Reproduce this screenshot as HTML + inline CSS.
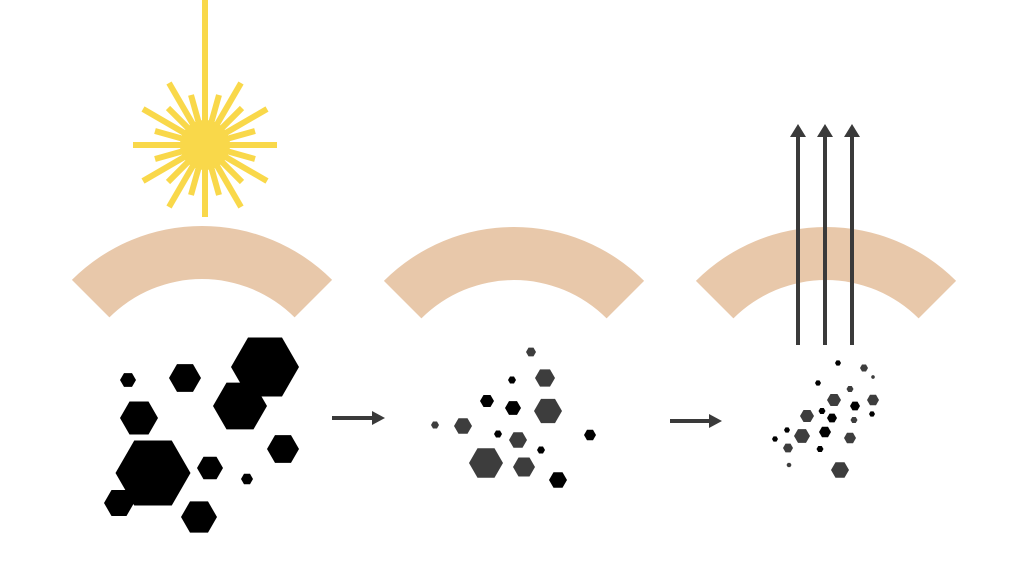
<!DOCTYPE html>
<html><head><style>html,body{margin:0;padding:0;background:#fff}svg{display:block}</style></head>
<body>
<svg width="1034" height="566" viewBox="0 0 1034 566" xmlns="http://www.w3.org/2000/svg">
<defs>
<polygon id="h" points="1,0 0.5,0.866 -0.5,0.866 -1,0 -0.5,-0.866 0.5,-0.866"/>
</defs>
<rect width="1034" height="566" fill="#fff"/>
<g fill="#e8c8aa">
<path d="M71.9 279.9 A184 184 0 0 1 332.1 279.9 L294.6 317.4 A131 131 0 0 0 109.4 317.4 Z"/>
<path d="M383.9 280.9 A184 184 0 0 1 644.1 280.9 L606.6 318.4 A131 131 0 0 0 421.4 318.4 Z"/>
<path d="M695.9 280.9 A184 184 0 0 1 956.1 280.9 L918.6 318.4 A131 131 0 0 0 733.4 318.4 Z"/>
</g>
<g stroke="#f9d84a" stroke-width="6" fill="#f9d84a">
<line x1="205" y1="0" x2="205" y2="145" stroke-width="6"/>
<g transform="translate(205,145)">
<line x1="0" y1="0" x2="72" y2="0"/>
<line x1="0" y1="0" x2="-72" y2="0"/>
<line x1="0" y1="0" x2="0" y2="72"/>
<line x1="0" y1="0" x2="62" y2="36"/>
<line x1="0" y1="0" x2="-62" y2="36"/>
<line x1="0" y1="0" x2="62" y2="-36"/>
<line x1="0" y1="0" x2="-62" y2="-36"/>
<line x1="0" y1="0" x2="36" y2="62"/>
<line x1="0" y1="0" x2="-36" y2="62"/>
<line x1="0" y1="0" x2="36" y2="-62"/>
<line x1="0" y1="0" x2="-36" y2="-62"/>
<line x1="0" y1="0" x2="50" y2="14"/>
<line x1="0" y1="0" x2="-50" y2="14"/>
<line x1="0" y1="0" x2="50" y2="-14"/>
<line x1="0" y1="0" x2="-50" y2="-14"/>
<line x1="0" y1="0" x2="37" y2="37"/>
<line x1="0" y1="0" x2="-37" y2="37"/>
<line x1="0" y1="0" x2="37" y2="-37"/>
<line x1="0" y1="0" x2="-37" y2="-37"/>
<line x1="0" y1="0" x2="14" y2="50"/>
<line x1="0" y1="0" x2="-14" y2="50"/>
<line x1="0" y1="0" x2="14" y2="-50"/>
<line x1="0" y1="0" x2="-14" y2="-50"/>
<circle r="25" stroke="none"/>
</g>
</g>
<g fill="#000">
<use href="#h" transform="translate(265,367) scale(34)"/>
<use href="#h" transform="translate(240,406) scale(27)"/>
<use href="#h" transform="translate(128,380) scale(8)"/>
<use href="#h" transform="translate(185,378) scale(16)"/>
<use href="#h" transform="translate(139,418) scale(19)"/>
<use href="#h" transform="translate(153,473) scale(37.5)"/>
<use href="#h" transform="translate(119,503) scale(15)"/>
<use href="#h" transform="translate(210,468) scale(13)"/>
<use href="#h" transform="translate(283,449) scale(16)"/>
<use href="#h" transform="translate(247,479) scale(6)"/>
<use href="#h" transform="translate(199,517) scale(18)"/>
</g>
<g fill="#3d3d3d">
<use href="#h" transform="translate(531,352) scale(5)"/>
<use href="#h" transform="translate(545,378) scale(10)"/>
<use href="#h" transform="translate(548,411) scale(14)"/>
<use href="#h" transform="translate(463,426) scale(9)"/>
<use href="#h" transform="translate(518,440) scale(9)"/>
<use href="#h" transform="translate(486,463) scale(17)"/>
<use href="#h" transform="translate(524,467) scale(11)"/>
<use href="#h" transform="translate(435,425) scale(4)"/>
</g>
<g fill="#000">
<use href="#h" transform="translate(512,380) scale(4)"/>
<use href="#h" transform="translate(487,401) scale(7)"/>
<use href="#h" transform="translate(513,408) scale(8)"/>
<use href="#h" transform="translate(498,434) scale(4)"/>
<use href="#h" transform="translate(541,450) scale(4)"/>
<use href="#h" transform="translate(590,435) scale(6)"/>
<use href="#h" transform="translate(558,480) scale(9)"/>
</g>
<g fill="#000">
<use href="#h" transform="translate(838,363) scale(3)"/>
<use href="#h" transform="translate(818,383) scale(3)"/>
<use href="#h" transform="translate(855,406) scale(5)"/>
<use href="#h" transform="translate(822,411) scale(3.5)"/>
<use href="#h" transform="translate(832,418) scale(5)"/>
<use href="#h" transform="translate(787,430) scale(3)"/>
<use href="#h" transform="translate(775,439) scale(3)"/>
<use href="#h" transform="translate(825,432) scale(6)"/>
<use href="#h" transform="translate(820,449) scale(3.5)"/>
<use href="#h" transform="translate(872,414) scale(3)"/>
</g>
<g fill="#3d3d3d">
<use href="#h" transform="translate(864,368) scale(4)"/>
<use href="#h" transform="translate(873,377) scale(2)"/>
<use href="#h" transform="translate(850,389) scale(3.5)"/>
<use href="#h" transform="translate(834,400) scale(7)"/>
<use href="#h" transform="translate(873,400) scale(6)"/>
<use href="#h" transform="translate(807,416) scale(7)"/>
<use href="#h" transform="translate(854,420) scale(3.5)"/>
<use href="#h" transform="translate(802,436) scale(8)"/>
<use href="#h" transform="translate(850,438) scale(6)"/>
<use href="#h" transform="translate(788,448) scale(5)"/>
<use href="#h" transform="translate(789,465) scale(2.5)"/>
<use href="#h" transform="translate(840,470) scale(9)"/>
</g>
<g stroke="#3a3a3a" stroke-width="4" fill="#3a3a3a">
<line x1="332" y1="418" x2="374" y2="418"/>
<polygon points="372,411 385,418 372,425" stroke="none"/>
<line x1="670" y1="421" x2="711" y2="421"/>
<polygon points="709,414 722,421 709,428" stroke="none"/>
<line x1="798" y1="345" x2="798" y2="136"/>
<line x1="825" y1="345" x2="825" y2="136"/>
<line x1="852" y1="345" x2="852" y2="136"/>
<polygon points="790,137 798,124 806,137" stroke="none"/>
<polygon points="817,137 825,124 833,137" stroke="none"/>
<polygon points="844,137 852,124 860,137" stroke="none"/>
</g>
</svg>
</body></html>
